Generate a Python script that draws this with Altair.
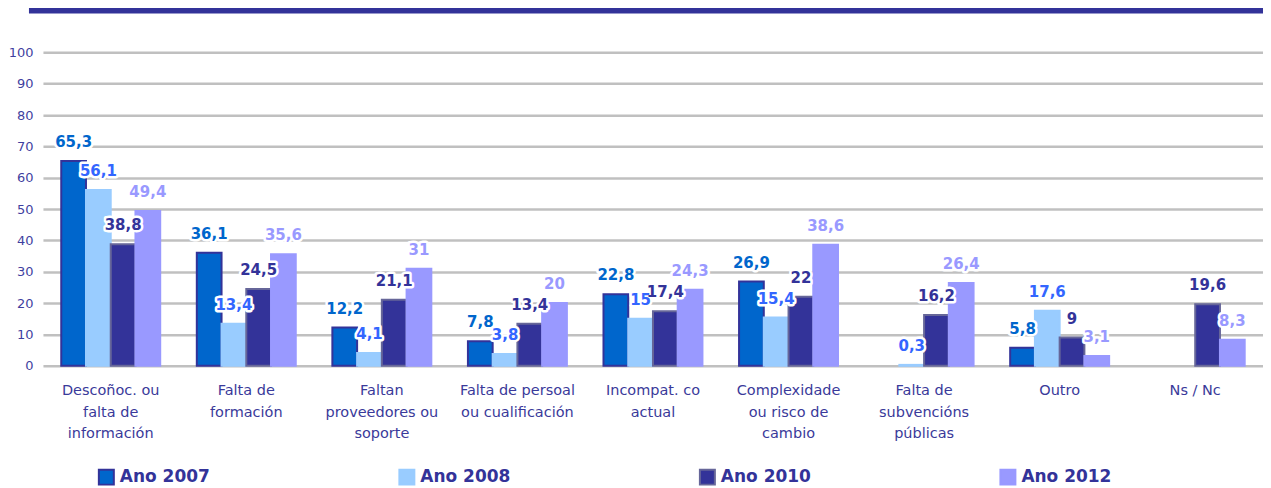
import altair as alt
import pandas as pd

categories = [
    "Descoñoc. ou|falta de|información",
    "Falta de|formación",
    "Faltan|proveedores ou|soporte",
    "Falta de persoal|ou cualificación",
    "Incompat. co|actual",
    "Complexidade|ou risco de|cambio",
    "Falta de|subvencións|públicas",
    "Outro",
    "Ns / Nc",
]
years = ["Ano 2007", "Ano 2008", "Ano 2010", "Ano 2012"]
v2007 = [65.3, 36.1, 12.2, 7.8, 22.8, 26.9, None, 5.8, None]
v2008 = [56.1, 13.4, 4.1, 3.8, 15, 15.4, 0.3, 17.6, None]
v2010 = [38.8, 24.5, 21.1, 13.4, 17.4, 22, 16.2, 9, 19.6]
v2012 = [49.4, 35.6, 31, 20, 24.3, 38.6, 26.4, 3.1, 8.3]
y_ticks = list(range(0, 101, 10))

fill_colors = ["#0066CC", "#99CCFF", "#333399", "#9999FF"]
stroke_colors = ["#333399", "#99CCFF", "#666699", "#9999FF"]
label_colors = ["#0066CC", "#3366FF", "#333399", "#9999FF"]

rows = []
for yr, series in zip(years, [v2007, v2008, v2010, v2012]):
    for cat, v in zip(categories, series):
        if v is None:
            continue
        rows.append({"cat": cat, "year": yr, "value": v,
                     "label": f"{v:g}".replace(".", ",")})
df = pd.DataFrame(rows)

W, H = 1222, 314

x_enc = alt.X("cat:N", sort=categories,
              scale=alt.Scale(paddingInner=0.27, paddingOuter=0.135),
              axis=alt.Axis(title=None, labelAngle=0, ticks=False, domain=False,
                            labelExpr="split(datum.label, '|')",
                            labelFont="DejaVu Sans", labelFontSize=14.5,
                            labelColor="#3A3A9A", labelLineHeight=21.5,
                            labelPadding=18, labelLimit=300, grid=False))
xo_enc = alt.XOffset("year:N", sort=years,
                     scale=alt.Scale(domain=years, paddingInner=0, paddingOuter=0))
y_enc = alt.Y("value:Q", scale=alt.Scale(domain=[0, 100], nice=False),
              axis=alt.Axis(title=None, values=y_ticks, ticks=False, domain=False,
                            labelFont="DejaVu Sans", labelFontSize=13,
                            labelColor="#3F3F9F", labelPadding=10,
                            gridColor="#C0C0C0", gridWidth=2.5, gridOpacity=1))

base = alt.Chart(df)

bars = base.mark_bar(strokeWidth=2).encode(
    x=x_enc, xOffset=xo_enc, y=y_enc,
    fill=alt.Fill("year:N", sort=years,
                  scale=alt.Scale(domain=years, range=fill_colors),
                  legend=alt.Legend(title=None)),
    stroke=alt.Stroke("year:N", sort=years,
                      scale=alt.Scale(domain=years, range=stroke_colors),
                      legend=alt.Legend(title=None)),
)

halo = base.mark_text(font="DejaVu Sans", fontWeight="bold", fontSize=15,
                      baseline="middle", dy=-19, fill="white", stroke="white",
                      strokeWidth=5, strokeJoin="round").encode(
    x=x_enc, xOffset=xo_enc, y=y_enc, text="label:N")

labels = base.mark_text(font="DejaVu Sans", fontWeight="bold", fontSize=15,
                        baseline="middle", dy=-19).encode(
    x=x_enc, xOffset=xo_enc, y=y_enc, text="label:N",
    color=alt.Color("year:N", sort=years,
                    scale=alt.Scale(domain=years, range=label_colors),
                    legend=None))

top_rule = alt.Chart(alt.Data(values=[{"a": 1}])).mark_rule(
    color="#333399", strokeWidth=6).encode(
    x=alt.value(-14), x2=alt.value(W), y=alt.value(-42))

chart = alt.layer(bars, halo, labels, top_rule).resolve_scale(
    color="independent"
).properties(
    width=W, height=H,
    padding={"left": 35, "top": 44, "right": 0, "bottom": 124},
    autosize=alt.AutoSizeParams(type="none"),
).configure_view(stroke=None).configure_legend(
    orient="none", legendX=55, legendY=417, direction="horizontal",
    columns=4, columnPadding=185, padding=0,
    symbolType="square", symbolSize=225, symbolStrokeWidth=2,
    labelFont="DejaVu Sans", labelFontWeight="bold", labelFontSize=17,
    labelColor="#333399", labelOffset=5, labelLimit=300,
)

chart.save("out.html", embed_options={"renderer": "svg", "actions": False})
